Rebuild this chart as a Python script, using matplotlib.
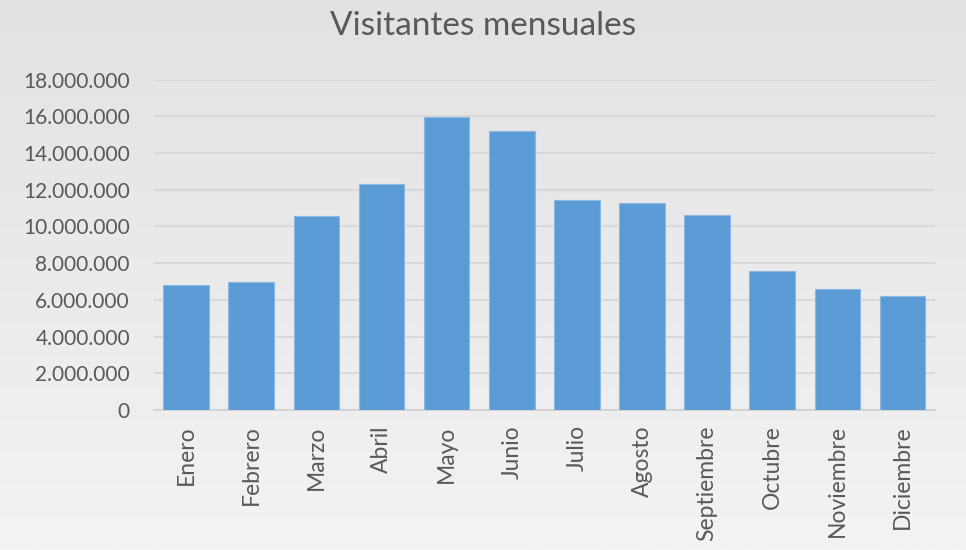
import matplotlib
matplotlib.use("Agg")
import matplotlib.pyplot as plt
import numpy as np
from matplotlib.ticker import FuncFormatter, MultipleLocator
from matplotlib.colors import LinearSegmentedColormap

meses = ["Enero", "Febrero", "Marzo", "Abril", "Mayo", "Junio", "Julio",
         "Agosto", "Septiembre", "Octubre", "Noviembre", "Diciembre"]
visitantes = [6790000, 6990000, 10550000, 12330000, 15970000, 15210000,
              11460000, 11300000, 10610000, 7550000, 6590000, 6190000]

plt.rcParams['font.family'] = ['Lato', 'DejaVu Sans']
txt = '#595959'

fig = plt.figure(figsize=(9.66, 5.5), dpi=100)

# background gradient
bg = fig.add_axes([0, 0, 1, 1], zorder=-10)
grad = np.linspace(0, 1, 256).reshape(-1, 1)
cm = LinearSegmentedColormap.from_list('g', ['#E2E2E2', '#F3F3F3'])
bg.imshow(grad, aspect='auto', cmap=cm, extent=[0, 1, 0, 1], origin='upper')
bg.axis('off')

ax = fig.add_axes([0.159, 0.2545, 0.809, 0.6007])
ax.patch.set_alpha(0)
x = np.arange(len(meses))
ax.bar(x, visitantes, width=0.7, color='#5B9BD5', edgecolor='#8CB8E3',
       linewidth=0.8, zorder=3)
ax.set_xlim(-0.5, len(meses) - 0.5)
ax.set_ylim(0, 18000000)
ax.yaxis.set_major_locator(MultipleLocator(2000000))
ax.yaxis.set_major_formatter(FuncFormatter(lambda v, p: f"{int(v):,}".replace(",", ".")))
ax.grid(axis='y', color='#D6D6D6', linewidth=1.2, zorder=0)
for s in ['top', 'right', 'left']:
    ax.spines[s].set_visible(False)
ax.spines['bottom'].set_color('#CFCFCF')
ax.spines['bottom'].set_linewidth(1.2)
ax.set_xticks(x)
ax.set_xticklabels(meses, rotation=90, fontsize=16.5, color=txt)
ax.tick_params(axis='x', length=0, pad=11)
ax.tick_params(axis='y', length=0, pad=17, labelsize=15, labelcolor=txt)

fig.text(0.5, 0.952, "Visitantes mensuales", ha='center', va='center',
         fontsize=24, color=txt)

fig.savefig("out.png", dpi=100)
